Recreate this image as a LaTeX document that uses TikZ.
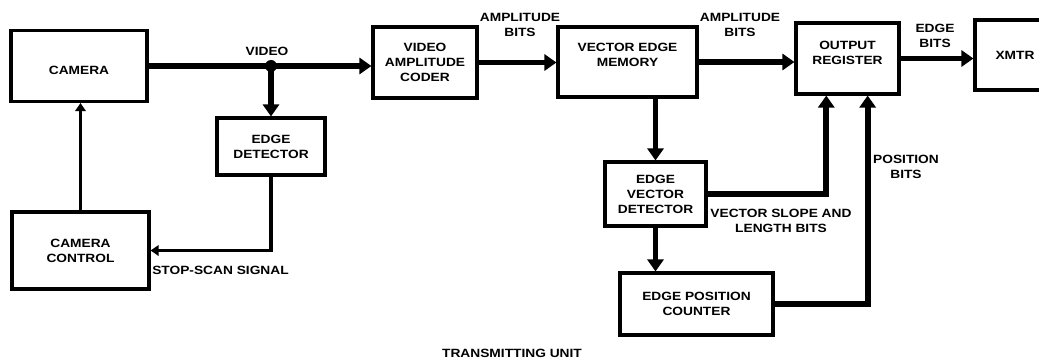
\documentclass[tikz,border=0pt]{standalone}
\usepackage{fontspec}
\newfontfamily\lblfont{Liberation Sans}[FakeStretch=1.15]
\usetikzlibrary{arrows.meta,calc}
\newcommand\liftup[2]{\raisebox{#1}[0pt][0pt]{\begin{tabular}{@{}c@{}}#2\end{tabular}}}
\begin{document}
\begin{tikzpicture}[x=0.025cm,y=-0.025cm,
  every node/.style={font=\lblfont\bfseries\fontsize{8.5}{10.7}\selectfont, align=center, inner sep=1pt},
  blockbox/.style={draw, line width=2.2pt, inner sep=2pt},
  bus/.style={line width=4.2pt, -{Triangle[width=0.4cm,length=0.3cm]}},
  ctrl/.style={line width=2.4pt, -{Triangle[width=0.26cm,length=0.2cm]}},
  tag/.style={inner sep=0pt}]
\clip (0,0) rectangle (1039,361);
\fill[white] (0,0) rectangle (1039,361);

% blocks
\node[blockbox, minimum width=3.4cm,   minimum height=1.775cm] (cam)  at (79,66)      {\liftup{-0.2cm}{CAMERA}};
\node[blockbox, minimum width=3.425cm, minimum height=1.925cm] (ctl)  at (80.5,250.5) {CAMERA\\CONTROL};
\node[blockbox, minimum width=2.7cm,   minimum height=1.425cm] (edge) at (271,146.5)  {EDGE\\DETECTOR};
\node[blockbox, minimum width=2.6cm,   minimum height=1.775cm] (vac)  at (425,62.5)   {VIDEO\\AMPLITUDE\\CODER};
\node[blockbox, minimum width=3.475cm, minimum height=1.75cm]  (vem)  at (627.5,62)   {\liftup{0.08cm}{VECTOR EDGE\\MEMORY}};
\node[blockbox, minimum width=2.525cm, minimum height=1.6cm]   (evd)  at (655.5,194)  {EDGE\\VECTOR\\DETECTOR};
\node[blockbox, minimum width=3.825cm, minimum height=1.55cm]  (epc)  at (696.5,304)  {EDGE POSITION\\COUNTER};
\node[blockbox, minimum width=2.575cm, minimum height=1.775cm] (or)   at (847.5,58.5) {\liftup{0.05cm}{OUTPUT\\REGISTER}};
\node[blockbox, minimum width=2.0cm,   minimum height=1.75cm]  (xmtr) at (1015,55)    {XMTR};

% entry points on the output register
\coordinate (orin1) at ($(or.south west)!0.30!(or.south east)$);
\coordinate (orin2) at ($(or.south west)!0.69!(or.south east)$);
\coordinate (jn) at (edge.north |- cam.east);

% video path
\draw[bus] (cam.east) -- (cam.east -| vac.west);
\fill (jn) circle[radius=0.15cm];
\draw[bus] (jn) -- (edge.north);
\draw[ctrl] (edge.south) |- (ctl.east);
\draw[ctrl] (ctl.north) -- (ctl.north |- cam.south);

% data path
\draw[bus] (vac.east) -- (vac.east -| vem.west);
\draw[bus] (vem.east) -- (vem.east -| or.west);
\draw[bus] (or.east) -- (or.east -| xmtr.west);
\draw[bus] (evd.north |- vem.south) -- (evd.north);
\draw[bus] (evd.south) -- (evd.south |- epc.north);
\draw[bus] (evd.east) -| (orin1);
\draw[bus] (epc.east) -| (orin2);

% signal labels
\node[tag] (lvideo) at (267,51)    {VIDEO};
\node[tag] (lamp1)  at (520,24.5)  {AMPLITUDE\\BITS};
\node[tag] (lamp2)  at (740,24.5)  {AMPLITUDE\\BITS};
\node[tag] (ledge)  at (935,36)    {EDGE\\BITS};
\node[tag, anchor=west] (lstop) at (152,270) {STOP-SCAN SIGNAL};
\node[tag] (lslope) at (781,220.5) {VECTOR SLOPE AND\\LENGTH BITS};
\node[tag] (lpos)   at (906,166.5) {POSITION\\BITS};
\node[tag] (title)  at (512,353)   {TRANSMITTING UNIT};
\end{tikzpicture}
\end{document}
